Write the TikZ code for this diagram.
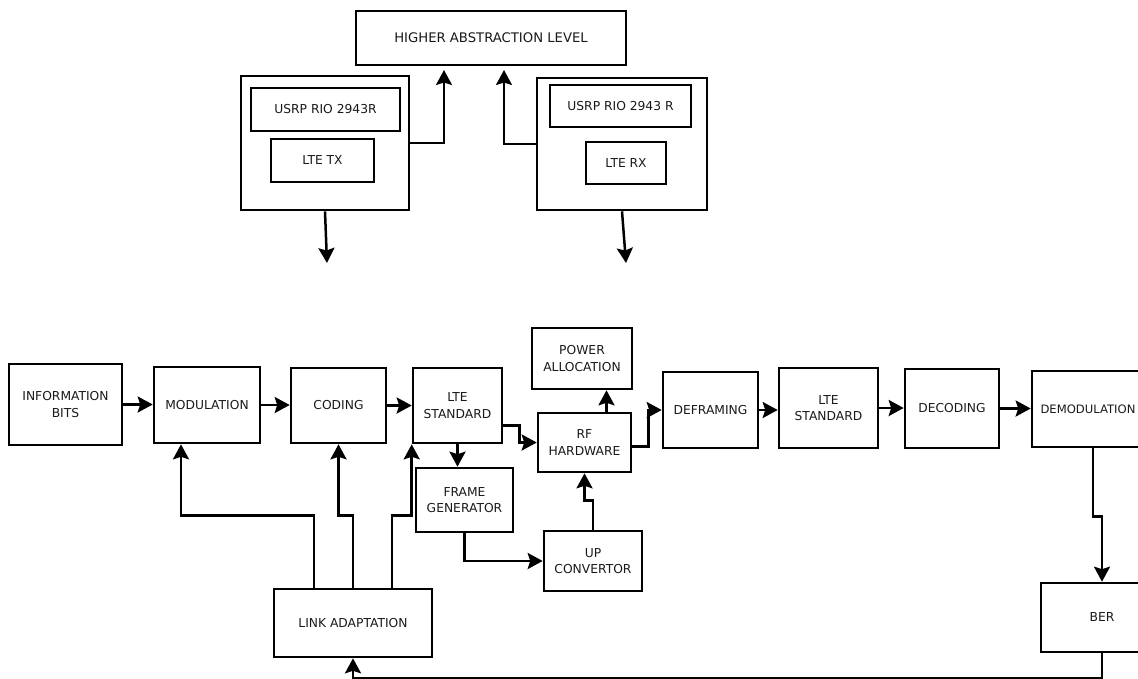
\documentclass[tikz,border=0pt]{standalone}
\usepackage{fontspec}
\setmainfont{DejaVu Sans}
\usepackage{tikz}
\usetikzlibrary{arrows.meta,positioning,calc}

\tikzset{
  blk/.style={draw, line width=2.6pt, inner sep=0pt, align=center, text=black!90,
    font=\fontsize{12.3}{16.5}\selectfont},
}

\begin{document}
\begin{tikzpicture}[x=1pt, y=-1pt, line width=2.5pt,
    >={Stealth[length=15pt,width=16pt,inset=2.5pt]}]
            \useasboundingbox (0,0) rectangle (1138,678);
            \clip (0,0) rectangle (1138,678);

            % upper part
            \node[blk, minimum width=270pt, minimum height=54pt, font=\fontsize{13.2}{16}\selectfont] (hal) at (491,38) {HIGHER ABSTRACTION LEVEL};
            \node[blk, minimum width=168pt, minimum height=134pt] (txbox) at (325,143) {};
            \node[blk, minimum width=149pt, minimum height=43pt] (usrptx) at (325.5,109.5) {USRP RIO 2943R};
            \node[blk, minimum width=103pt, minimum height=43pt] (ltetx) at (322.5,160.5) {LTE TX};
            \node[blk, minimum width=170pt, minimum height=132pt] (rxbox) at (622,144) {};
            \node[blk, minimum width=141pt, minimum height=42pt] (usrprx) at (620.5,106) {USRP RIO 2943 R};
            \node[blk, minimum width=80pt, minimum height=42pt] (lterx) at (626,163) {LTE RX};

            \coordinate (upl) at (444,70);
            \coordinate (upr) at (504,70);
            \coordinate (dnl) at (327,263);
            \coordinate (dnr) at (626,263);

            \draw[->] (txbox.east) -| (upl);
            \draw[->] (rxbox.west) -| (upr);
            \draw[->] (txbox.south) -- (dnl);
            \draw[->] (rxbox.south) -- (dnr);

            % lower part
            \node[blk, minimum width=113pt, minimum height=81pt] (info) at (65.5,404.5) {INFORMATION\\BITS};
            \node[blk, minimum width=106pt, minimum height=76pt] (modu) at (207,405) {MODULATION};
            \node[blk, minimum width=95pt, minimum height=75pt] (coding) at (338.5,405.5) {CODING};
            \node[blk, minimum width=89pt, minimum height=75pt] (ltestd) at (457.5,405.5) {LTE\\STANDARD};
            \node[blk, minimum width=100pt, minimum height=61pt] (power) at (582,358.5) {POWER\\ALLOCATION};
            \node[blk, minimum width=93pt, minimum height=59pt] (rf) at (584.5,442.5) {RF\\HARDWARE};
            \node[blk, minimum width=97pt, minimum height=64pt] (frame) at (464.5,500) {FRAME\\GENERATOR};
            \node[blk, minimum width=98pt, minimum height=60pt] (upconv) at (593,561) {UP\\CONVERTOR};
            \node[blk, minimum width=158pt, minimum height=68pt] (link) at (353,623) {LINK ADAPTATION};
            \node[blk, minimum width=95pt, minimum height=76pt] (defram) at (710.5,410) {DEFRAMING};
            \node[blk, minimum width=99pt, minimum height=80pt] (ltestdrx) at (828.5,408) {LTE\\STANDARD};
            \node[blk, minimum width=94pt, minimum height=79pt] (decod) at (952,408.5) {DECODING};
            \node[blk, minimum width=112pt, minimum height=76pt, font=\fontsize{11.6}{16}\selectfont] (demod) at (1088,409) {DEMODULATION};
            \node[blk, minimum width=122pt, minimum height=69pt] (ber) at (1102,617.5) {BER};

            \draw[->] (info.east) -- (info.east -| modu.west);
            \draw[->] (modu.east) -- (modu.east -| coding.west);
            \draw[->] (coding.east) -- (coding.east -| ltestd.west);
            \draw[->] ($(ltestd.east)+(0,20)$) -- ++(16,0) |- (rf.west);
            \draw[->] (ltestd.south) -- (ltestd.south |- frame.north);
            \draw[->] ($(rf.north)+(22,0)$) coordinate (rfp) -- (rfp |- power.south);
            \draw[->] ($(rf.east)+(0,4)$) -- ++(16,0) |- (defram.west);
            \draw[->] (frame.south) |- (upconv.west);
            \draw[->] (upconv.north) -- ++(0,-29) -| (rf.south);
            \draw[->] (defram.east) -- (defram.east -| ltestdrx.west);
            \draw[->] (ltestdrx.east) -- (ltestdrx.east -| decod.west);
            \draw[->] (decod.east) -- (decod.east -| demod.west);
            \draw[->] ($(demod.south)+(5,0)$) -- ++(0,68) -| (ber.north);
            \draw[->] (ber.south) -- ++(0,25) -| (link.south);

            \draw[->] ($(link.north)+(-39,0)$) -- ++(0,-72) -| ($(modu.south)+(-26,0)$);
            \draw[->] (link.north) -- ++(0,-72) -| (coding.south);
            \draw[->] ($(link.north)+(39,0)$) -- ++(0,-72) -| (ltestd.south west);
\end{tikzpicture}
\end{document}
